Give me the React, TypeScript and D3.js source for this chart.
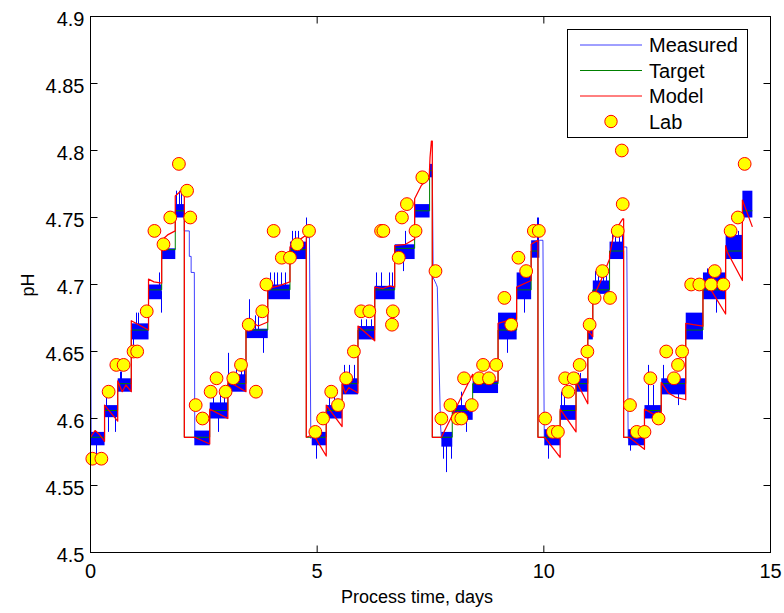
import React from "react";
import * as d3 from "d3";

// ---------- data ----------
// target set-point steps (start time, level)
const stepStart = [0, 0.31, 0.6, 0.9, 1.28, 1.57, 1.87, 2.07, 2.63, 3.03, 3.43, 3.91, 4.4, 4.76, 5.2, 5.55, 5.9, 6.27, 6.71, 7.15, 7.48, 7.54, 7.98, 8.43, 8.99, 9.4, 9.72, 9.87, 10.36, 10.71, 10.97, 11.08, 11.45, 11.76, 12.22, 12.59, 13.13, 13.51, 14.01, 14.38];
const targetLevel = [4.586, 4.606, 4.626, 4.666, 4.696, 4.726, 4.755, 4.586, 4.606, 4.626, 4.666, 4.696, 4.726, 4.586, 4.606, 4.626, 4.666, 4.696, 4.727, 4.755, 4.785, 4.586, 4.606, 4.626, 4.666, 4.696, 4.725, 4.586, 4.606, 4.626, 4.666, 4.696, 4.725, 4.586, 4.606, 4.626, 4.666, 4.696, 4.725, 4.755];
const endTime = 14.6;

// measured pH: dense oscillation bands [t0, t1, lo, hi]
const bandT0 = [0.01, 0.31, 0.6, 0.9, 1.28, 1.57, 1.87, 2.29, 2.63, 3.03, 3.43, 3.91, 4.4, 4.88, 5.2, 5.55, 5.9, 6.27, 6.71, 7.15, 7.48, 7.74, 7.98, 8.43, 8.99, 9.4, 9.72, 10.01, 10.36, 10.71, 10.97, 11.08, 11.45, 11.86, 12.22, 12.59, 13.13, 13.51, 14.01, 14.38];
const bandT1 = [0.31, 0.6, 0.9, 1.28, 1.57, 1.87, 2.07, 2.63, 3.03, 3.43, 3.91, 4.4, 4.76, 5.2, 5.55, 5.9, 6.27, 6.71, 7.15, 7.48, 7.54, 7.98, 8.43, 8.99, 9.4, 9.72, 9.9, 10.36, 10.71, 10.97, 11.08, 11.45, 11.76, 12.22, 12.59, 13.13, 13.51, 14.01, 14.38, 14.6];
const bandLo = [4.58, 4.601, 4.62, 4.659, 4.689, 4.719, 4.75, 4.58, 4.6, 4.62, 4.66, 4.689, 4.719, 4.58, 4.6, 4.618, 4.659, 4.689, 4.719, 4.75, 4.78, 4.579, 4.599, 4.619, 4.659, 4.689, 4.72, 4.58, 4.599, 4.62, 4.659, 4.693, 4.719, 4.58, 4.6, 4.618, 4.659, 4.689, 4.719, 4.75];
const bandHi = [4.59, 4.61, 4.63, 4.671, 4.7, 4.727, 4.76, 4.591, 4.612, 4.633, 4.667, 4.7, 4.732, 4.59, 4.61, 4.63, 4.669, 4.699, 4.73, 4.76, 4.79, 4.59, 4.61, 4.628, 4.679, 4.709, 4.733, 4.592, 4.61, 4.63, 4.67, 4.703, 4.732, 4.592, 4.61, 4.63, 4.679, 4.709, 4.737, 4.77];

// measured pH: single spikes [t, lo, hi]
const spikeT = [0.12, 0.35, 0.38, 0.53, 0.64, 0.68, 0.93, 1.01, 1.04, 1.52, 1.56, 1.89, 1.96, 2.0, 2.7, 2.82, 2.85, 2.95, 3.03, 3.21, 3.32, 3.39, 3.49, 3.62, 3.69, 3.8, 3.97, 4.04, 4.12, 4.2, 4.29, 4.44, 4.5, 4.57, 4.75, 4.98, 5.27, 5.38, 5.59, 5.7, 5.81, 5.97, 6.08, 6.19, 6.3, 6.41, 6.58, 6.65, 6.89, 6.93, 7.77, 7.85, 7.96, 8.18, 8.29, 9.18, 9.57, 9.84, 9.88, 10.09, 10.38, 10.45, 10.75, 10.8, 11.12, 11.2, 11.3, 11.38, 11.5, 11.58, 11.66, 11.72, 11.89, 12.3, 12.4, 12.63, 12.96, 13.6, 13.8, 14.04, 14.12, 14.22, 14.28];
const spikeLo = [4.569, 4.605, 4.59, 4.59, 4.625, 4.625, 4.653, 4.665, 4.665, 4.695, 4.679, 4.755, 4.755, 4.755, 4.605, 4.59, 4.605, 4.605, 4.625, 4.625, 4.625, 4.625, 4.663, 4.663, 4.663, 4.649, 4.695, 4.695, 4.695, 4.695, 4.695, 4.725, 4.725, 4.725, 4.725, 4.57, 4.605, 4.605, 4.625, 4.625, 4.625, 4.664, 4.664, 4.664, 4.695, 4.695, 4.695, 4.695, 4.71, 4.725, 4.57, 4.56, 4.57, 4.605, 4.59, 4.649, 4.679, 4.726, 4.726, 4.57, 4.605, 4.605, 4.625, 4.625, 4.698, 4.698, 4.698, 4.698, 4.725, 4.725, 4.725, 4.725, 4.576, 4.605, 4.605, 4.625, 4.61, 4.7, 4.679, 4.73, 4.73, 4.73, 4.73];
const spikeHi = [4.585, 4.616, 4.605, 4.605, 4.635, 4.635, 4.665, 4.679, 4.679, 4.709, 4.695, 4.77, 4.77, 4.77, 4.62, 4.605, 4.62, 4.62, 4.649, 4.638, 4.638, 4.638, 4.689, 4.677, 4.677, 4.663, 4.709, 4.709, 4.709, 4.709, 4.709, 4.74, 4.74, 4.74, 4.75, 4.585, 4.62, 4.62, 4.64, 4.64, 4.64, 4.674, 4.674, 4.674, 4.709, 4.709, 4.709, 4.709, 4.725, 4.74, 4.585, 4.585, 4.585, 4.62, 4.605, 4.665, 4.695, 4.75, 4.75, 4.585, 4.62, 4.62, 4.634, 4.634, 4.71, 4.71, 4.71, 4.71, 4.74, 4.74, 4.74, 4.74, 4.585, 4.64, 4.625, 4.64, 4.62, 4.712, 4.692, 4.74, 4.74, 4.74, 4.74];

// measured pH: slow decays after each drop [t, pH]
const measuredDrops = [
  [[0.0, 4.71], [0.015, 4.585]],
  [[2.07, 4.755], [2.07, 4.74], [2.18, 4.74], [2.18, 4.721], [2.22, 4.721], [2.22, 4.709], [2.29, 4.709], [2.3, 4.585]],
  [[4.76, 4.735], [4.83, 4.735], [4.86, 4.585]],
  [[7.54, 4.785], [7.56, 4.705], [7.63, 4.7], [7.65, 4.698], [7.72, 4.596], [7.74, 4.585]],
  [[9.9, 4.733], [9.98, 4.733], [10.01, 4.585]],
  [[11.76, 4.728], [11.83, 4.728], [11.86, 4.585]],
];

// model prediction [t, pH]
const modelPts = [
  [0.0, 4.586], [0.1, 4.591], [0.2, 4.588], [0.31, 4.583],
  [0.31, 4.61], [0.6, 4.598],
  [0.6, 4.628], [0.7, 4.62], [0.78, 4.625], [0.9, 4.62],
  [0.9, 4.673], [1.28, 4.666],
  [1.28, 4.704], [1.4, 4.702], [1.57, 4.701],
  [1.57, 4.733], [1.7, 4.737], [1.87, 4.74],
  [1.87, 4.766], [2.0, 4.77], [2.07, 4.772],
  [2.07, 4.586], [2.3, 4.586], [2.63, 4.581],
  [2.63, 4.607], [3.03, 4.6],
  [3.03, 4.628], [3.43, 4.62],
  [3.43, 4.668], [3.55, 4.672], [3.7, 4.669], [3.91, 4.672],
  [3.91, 4.697], [4.15, 4.699], [4.4, 4.702],
  [4.4, 4.728], [4.55, 4.732], [4.76, 4.737],
  [4.76, 4.586], [4.92, 4.588], [5.2, 4.572],
  [5.2, 4.61], [5.55, 4.594],
  [5.55, 4.626], [5.62, 4.619], [5.7, 4.623], [5.9, 4.619],
  [5.9, 4.669], [6.27, 4.658],
  [6.27, 4.698], [6.45, 4.697], [6.6, 4.699], [6.71, 4.698],
  [6.71, 4.729], [6.95, 4.73], [7.15, 4.734],
  [7.15, 4.764], [7.3, 4.774], [7.47, 4.779],
  [7.49, 4.795], [7.52, 4.807], [7.54, 4.807],
  [7.54, 4.586], [7.74, 4.586],
  [8.43, 4.633], [8.47, 4.627], [8.99, 4.628],
  [8.99, 4.671], [9.2, 4.673], [9.4, 4.674],
  [9.4, 4.698], [9.72, 4.703],
  [9.72, 4.73], [9.87, 4.733],
  [9.87, 4.586], [10.02, 4.586], [10.36, 4.571],
  [10.36, 4.607], [10.71, 4.59],
  [10.71, 4.628], [10.97, 4.611],
  [10.97, 4.666], [11.08, 4.661],
  [11.08, 4.69], [11.25, 4.702], [11.45, 4.719],
  [11.45, 4.722], [11.55, 4.739], [11.74, 4.749], [11.76, 4.749],
  [11.76, 4.586], [11.88, 4.586], [12.22, 4.577],
  [12.22, 4.607], [12.59, 4.6],
  [12.59, 4.627], [12.75, 4.619], [12.9, 4.616], [13.13, 4.614],
  [13.13, 4.671], [13.3, 4.67], [13.51, 4.669],
  [13.51, 4.7], [13.65, 4.698], [14.01, 4.678],
  [14.01, 4.729], [14.05, 4.724], [14.38, 4.703],
  [14.38, 4.763], [14.6, 4.743],
];

// lab samples
const labT = [0.04, 0.24, 0.4, 0.57, 0.73, 0.95, 1.03, 1.24, 1.41, 1.61, 1.76, 1.95, 2.13, 2.2, 2.32, 2.47, 2.65, 2.78, 2.98, 3.15, 3.32, 3.49, 3.65, 3.79, 3.88, 4.04, 4.22, 4.4, 4.56, 4.82, 4.96, 5.13, 5.31, 5.46, 5.64, 5.81, 5.97, 6.15, 6.41, 6.46, 6.65, 6.67, 6.8, 6.87, 6.98, 7.17, 7.32, 7.61, 7.74, 7.94, 8.1, 8.18, 8.24, 8.41, 8.57, 8.66, 8.79, 8.95, 9.13, 9.28, 9.44, 9.61, 9.78, 9.89, 10.03, 10.2, 10.31, 10.47, 10.54, 10.66, 10.79, 10.96, 11.01, 11.12, 11.29, 11.46, 11.63, 11.72, 11.74, 11.9, 12.05, 12.22, 12.35, 12.53, 12.7, 12.87, 12.96, 13.05, 13.25, 13.43, 13.69, 13.77, 13.96, 14.12, 14.28, 14.43];
const labPH = [4.57, 4.57, 4.62, 4.64, 4.64, 4.65, 4.65, 4.68, 4.74, 4.73, 4.75, 4.79, 4.77, 4.75, 4.61, 4.6, 4.62, 4.63, 4.62, 4.63, 4.64, 4.67, 4.62, 4.68, 4.7, 4.74, 4.72, 4.72, 4.73, 4.74, 4.59, 4.6, 4.62, 4.61, 4.63, 4.65, 4.68, 4.68, 4.74, 4.74, 4.67, 4.68, 4.72, 4.75, 4.76, 4.74, 4.78, 4.71, 4.6, 4.61, 4.6, 4.6, 4.63, 4.61, 4.63, 4.64, 4.63, 4.64, 4.69, 4.67, 4.72, 4.71, 4.74, 4.74, 4.6, 4.59, 4.59, 4.63, 4.62, 4.63, 4.64, 4.65, 4.67, 4.69, 4.71, 4.69, 4.74, 4.8, 4.76, 4.61, 4.59, 4.59, 4.63, 4.6, 4.65, 4.63, 4.64, 4.65, 4.7, 4.7, 4.7, 4.71, 4.7, 4.74, 4.75, 4.79];

const xTicks = [0, 5, 10, 15];
const xTickLabels = ["0", "5", "10", "15"];
const yTicks = [4.5, 4.55, 4.6, 4.65, 4.7, 4.75, 4.8, 4.85, 4.9];
const yTickLabels = ["4.5", "4.55", "4.6", "4.65", "4.7", "4.75", "4.8", "4.85", "4.9"];
const legendNames = ["Measured", "Target", "Model", "Lab"];

// ---------- styles ----------
const FONT = "'Liberation Sans', Arial, Helvetica, sans-serif";
const BLUE = "#0000ff";
const GREEN = "#008000";
const RED = "#ff0000";

export default function App() {
  const W = 784;
  const H = 613;
  const left = 90.5, right = 770.5, top = 16.5, bottom = 552.5;
  const x = d3.scaleLinear().domain([0, 15]).range([left, right]);
  const y = d3.scaleLinear().domain([4.5, 4.9]).range([bottom, top]);

  const line = d3.line<number[]>().x((d) => x(d[0])).y((d) => y(d[1]));
  const stepLine = d3
    .line<number[]>()
    .x((d) => x(d[0]))
    .y((d) => y(d[1]))
    .curve(d3.curveStepAfter);

  const targetPts = stepStart.map((t, i) => [t, targetLevel[i]]);
  targetPts.push([endTime, targetLevel[targetLevel.length - 1]]);

  const tick = 7;
  const legendRows = [45, 70.5, 96, 121.5];
  const legendColors = [BLUE, GREEN, RED];

  return (
    <svg
      width={W}
      height={H}
      style={{ position: "absolute", left: 0, top: 0, background: "#fff" }}
      fontFamily={FONT}
    >
      <defs>
        <clipPath id="plotClip">
          <rect x={left} y={top} width={right - left} height={bottom - top} />
        </clipPath>
      </defs>
      <rect x={0} y={0} width={W} height={H} fill="#fff" />

      <g clipPath="url(#plotClip)">
        {/* Measured */}
        <g fill={BLUE}>
          {bandT0.map((t0, i) => (
            <rect
              key={"b" + i}
              x={x(t0)}
              y={y(bandHi[i])}
              width={x(bandT1[i]) - x(t0)}
              height={y(bandLo[i]) - y(bandHi[i])}
            />
          ))}
        </g>
        <g stroke={BLUE} strokeWidth={1}>
          {spikeT.map((t, i) => (
            <line
              key={"s" + i}
              x1={Math.round(x(t)) + 0.5}
              x2={Math.round(x(t)) + 0.5}
              y1={y(spikeLo[i])}
              y2={y(spikeHi[i])}
            />
          ))}
        </g>
        <g fill="none" stroke={BLUE} strokeWidth={1} strokeOpacity={0.75}>
          {measuredDrops.map((pts, i) => (
            <path key={"d" + i} d={line(pts) || ""} />
          ))}
        </g>
        {/* Target */}
        <path d={stepLine(targetPts) || ""} fill="none" stroke={GREEN} strokeWidth={1} />
        {/* Model */}
        <path d={line(modelPts) || ""} fill="none" stroke={RED} strokeWidth={1.25} strokeLinejoin="round" />
      </g>
      {/* Lab */}
      <g fill="#ffff00" stroke={RED} strokeWidth={1}>
        {labT.map((t, i) => (
          <circle key={"l" + i} cx={x(t)} cy={y(labPH[i])} r={6.4} />
        ))}
      </g>

      {/* axes box */}
      <rect x={left} y={top} width={right - left} height={bottom - top} fill="none" stroke="#000" strokeWidth={1} />
      <g stroke="#000" strokeWidth={1}>
        {xTicks.map((t, i) => (
          <g key={"xt" + i}>
            <line x1={x(t)} x2={x(t)} y1={bottom} y2={bottom - tick} />
            <line x1={x(t)} x2={x(t)} y1={top} y2={top + tick} />
          </g>
        ))}
        {yTicks.map((v, i) => (
          <g key={"yt" + i}>
            <line x1={left} x2={left + tick} y1={y(v)} y2={y(v)} />
            <line x1={right} x2={right - tick} y1={y(v)} y2={y(v)} />
          </g>
        ))}
      </g>
      <g fontSize={20} fill="#000">
        {xTicks.map((t, i) => (
          <text key={"xl" + i} x={x(t)} y={578} textAnchor="middle">
            {xTickLabels[i]}
          </text>
        ))}
        {yTicks.map((v, i) => (
          <text key={"yl" + i} x={84.5} y={y(v) + 9} textAnchor="end">
            {yTickLabels[i]}
          </text>
        ))}
      </g>
      <text x={417} y={603} fontSize={18} textAnchor="middle">
        Process time, days
      </text>
      <text x={0} y={0} fontSize={18} textAnchor="middle" transform="translate(34,285) rotate(-90)">
        pH
      </text>

      {/* legend */}
      <rect x={567.5} y={29.5} width={180} height={108} fill="#fff" stroke="#000" strokeWidth={1} />
      {legendNames.map((name, i) => (
        <g key={"lg" + i}>
          {i < 3 ? (
            <line
              x1={580}
              x2={642}
              y1={legendRows[i]}
              y2={legendRows[i]}
              stroke={legendColors[i]}
              strokeWidth={1}
              strokeOpacity={i === 0 ? 0.75 : 1}
            />
          ) : (
            <circle cx={611} cy={legendRows[i]} r={6.2} fill="#ffff00" stroke={RED} strokeWidth={1} />
          )}
          <text x={649} y={legendRows[i] + 7} fontSize={20} fill="#000">
            {name}
          </text>
        </g>
      ))}
    </svg>
  );
}
